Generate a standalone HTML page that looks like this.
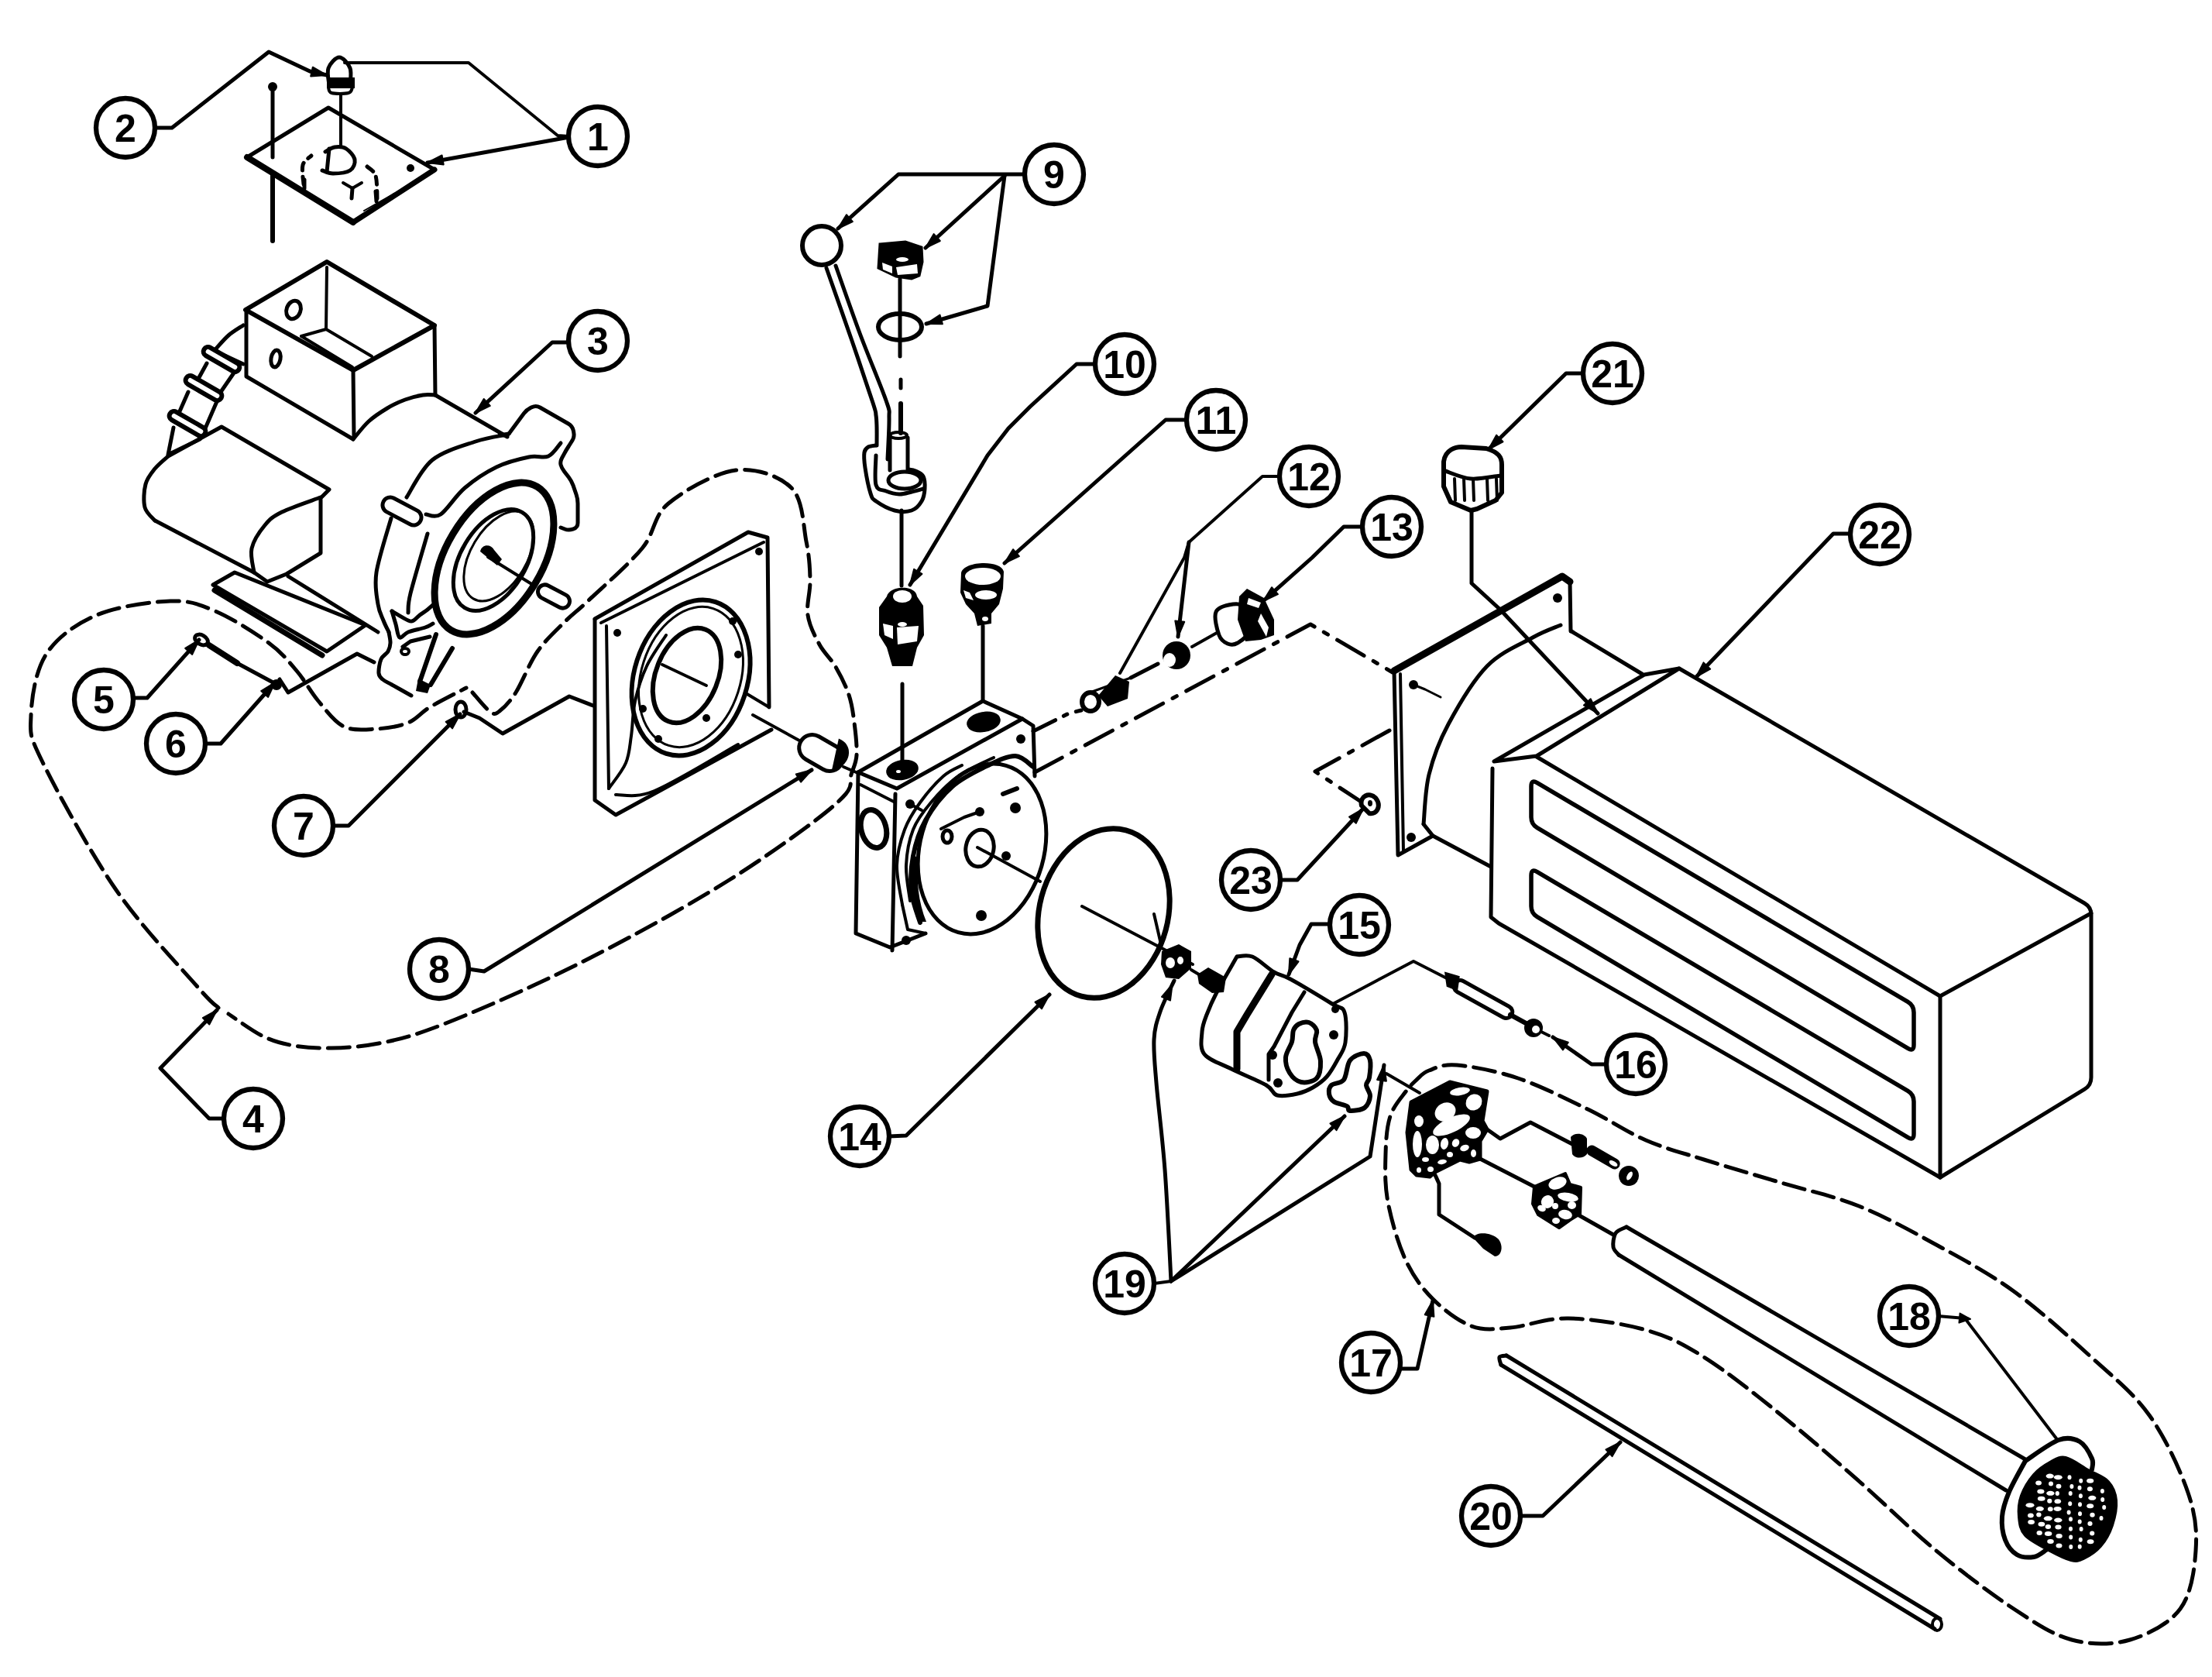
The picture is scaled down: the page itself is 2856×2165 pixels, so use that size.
<!DOCTYPE html>
<html><head><meta charset="utf-8"><style>
html,body{margin:0;padding:0;background:#fff;}
body{width:2856px;height:2165px;overflow:hidden;}
svg{display:block;}
</style></head><body>
<svg width="2856" height="2165" viewBox="0 0 2856 2165">
<rect width="2856" height="2165" fill="#fff"/>
<polyline points="200,165 222,165 347,67 400,92 422,97" fill="none" stroke="#000" stroke-width="5" stroke-linejoin="round" stroke-linecap="round" />
<polygon points="422,97 401.2,98.4 403.8,86.7" fill="#000" stroke="#000" stroke-width="2" stroke-linejoin="round"/>
<polyline points="445,81 605,81 720,175 735,176" fill="none" stroke="#000" stroke-width="4" stroke-linejoin="round" stroke-linecap="round" />
<polyline points="735,177 552,210" fill="none" stroke="#000" stroke-width="5" stroke-linejoin="round" stroke-linecap="round" />
<polygon points="552,210 570.6,200.5 572.7,212.4" fill="#000" stroke="#000" stroke-width="2" stroke-linejoin="round"/>
<polyline points="735,442 713,442 614,533" fill="none" stroke="#000" stroke-width="5" stroke-linejoin="round" stroke-linecap="round" />
<polygon points="614,533 624.7,515 632.8,523.9" fill="#000" stroke="#000" stroke-width="2" stroke-linejoin="round"/>
<polyline points="290,1444 270,1444 207,1379 280,1304" fill="none" stroke="#000" stroke-width="5" stroke-linejoin="round" stroke-linecap="round" />
<polygon points="280,1304 270.3,1322.5 261.8,1314.1" fill="#000" stroke="#000" stroke-width="2" stroke-linejoin="round"/>
<polyline points="172,901 190,901 257,826" fill="none" stroke="#000" stroke-width="5" stroke-linejoin="round" stroke-linecap="round" />
<polygon points="257,826 248.2,844.9 239.2,836.9" fill="#000" stroke="#000" stroke-width="2" stroke-linejoin="round"/>
<polyline points="265,960 285,960 355,881" fill="none" stroke="#000" stroke-width="5" stroke-linejoin="round" stroke-linecap="round" />
<polygon points="355,881 346.2,899.9 337.2,892" fill="#000" stroke="#000" stroke-width="2" stroke-linejoin="round"/>
<polyline points="430,1066 450,1066 594,922" fill="none" stroke="#000" stroke-width="5" stroke-linejoin="round" stroke-linecap="round" />
<polygon points="594,922 584.1,940.4 575.6,931.9" fill="#000" stroke="#000" stroke-width="2" stroke-linejoin="round"/>
<polyline points="605,1251 625,1254 1048,994" fill="none" stroke="#000" stroke-width="5" stroke-linejoin="round" stroke-linecap="round" />
<polygon points="1048,994 1034.1,1009.6 1027.8,999.4" fill="#000" stroke="#000" stroke-width="2" stroke-linejoin="round"/>
<polyline points="1323,225 1160,225 1082,295" fill="none" stroke="#000" stroke-width="5" stroke-linejoin="round" stroke-linecap="round" />
<polygon points="1082,295 1092.9,277.2 1100.9,286.1" fill="#000" stroke="#000" stroke-width="2" stroke-linejoin="round"/>
<polyline points="1297,227 1195,320" fill="none" stroke="#000" stroke-width="5" stroke-linejoin="round" stroke-linecap="round" />
<polygon points="1195,320 1205.7,302.1 1213.8,311" fill="#000" stroke="#000" stroke-width="2" stroke-linejoin="round"/>
<polyline points="1297,227 1275,395 1196,418" fill="none" stroke="#000" stroke-width="5" stroke-linejoin="round" stroke-linecap="round" />
<polygon points="1196,418 1213.5,406.6 1216.9,418.2" fill="#000" stroke="#000" stroke-width="2" stroke-linejoin="round"/>
<polyline points="1414,470 1390,470 1330,525 1302,553 1275,588 1175,755" fill="none" stroke="#000" stroke-width="5" stroke-linejoin="round" stroke-linecap="round" />
<polygon points="1175,755 1180.1,734.8 1190.4,740.9" fill="#000" stroke="#000" stroke-width="2" stroke-linejoin="round"/>
<polyline points="1532,542 1505,542 1297,727" fill="none" stroke="#000" stroke-width="5" stroke-linejoin="round" stroke-linecap="round" />
<polygon points="1297,727 1308,709.2 1315.9,718.2" fill="#000" stroke="#000" stroke-width="2" stroke-linejoin="round"/>
<polyline points="1652,615 1630,615 1535,700 1529,720 1446,869" fill="none" stroke="#000" stroke-width="4" stroke-linejoin="round" stroke-linecap="round" />
<polyline points="1535,700 1521,822" fill="none" stroke="#000" stroke-width="5" stroke-linejoin="round" stroke-linecap="round" />
<polygon points="1521,822 1517.3,801.4 1529.2,802.8" fill="#000" stroke="#000" stroke-width="2" stroke-linejoin="round"/>
<polyline points="1759,680 1735,680 1694,720 1631,776" fill="none" stroke="#000" stroke-width="5" stroke-linejoin="round" stroke-linecap="round" />
<polygon points="1631,776 1642,758.2 1649.9,767.2" fill="#000" stroke="#000" stroke-width="2" stroke-linejoin="round"/>
<polyline points="1148,1467 1170,1466 1355,1284" fill="none" stroke="#000" stroke-width="5" stroke-linejoin="round" stroke-linecap="round" />
<polygon points="1355,1284 1345,1302.3 1336.5,1293.7" fill="#000" stroke="#000" stroke-width="2" stroke-linejoin="round"/>
<polyline points="1717,1193 1693,1193 1678,1220 1664,1258" fill="none" stroke="#000" stroke-width="5" stroke-linejoin="round" stroke-linecap="round" />
<polygon points="1664,1258 1665.3,1237.2 1676.5,1241.3" fill="#000" stroke="#000" stroke-width="2" stroke-linejoin="round"/>
<polyline points="2074,1374 2055,1374 2005,1339" fill="none" stroke="#000" stroke-width="5" stroke-linejoin="round" stroke-linecap="round" />
<polygon points="2005,1339 2024.8,1345.6 2017.9,1355.4" fill="#000" stroke="#000" stroke-width="2" stroke-linejoin="round"/>
<polyline points="1807,1767 1830,1767 1850,1679" fill="none" stroke="#000" stroke-width="5" stroke-linejoin="round" stroke-linecap="round" />
<polygon points="1850,1679 1851.4,1699.8 1839.7,1697.2" fill="#000" stroke="#000" stroke-width="2" stroke-linejoin="round"/>
<polyline points="2502,1699 2537,1702 2655,1857" fill="none" stroke="#000" stroke-width="4" stroke-linejoin="round" stroke-linecap="round" />
<polygon points="2544,1702.9 2529.5,1707.6 2530.6,1695.6" fill="#000" stroke="#000" stroke-width="2" stroke-linejoin="round"/>
<polyline points="1490,1657 1512,1654" fill="none" stroke="#000" stroke-width="4" stroke-linejoin="round" stroke-linecap="round" />
<path d="M1512,1654 C1510.7,1630 1507.2,1552.7 1504,1510 C1500.8,1467.3 1495.3,1426 1493,1398 C1490.7,1370 1489.2,1357.3 1490,1342 C1490.8,1326.7 1493.7,1318.7 1498,1306 C1502.3,1293.3 1513,1272.7 1516,1266" fill="none" stroke="#000" stroke-width="5" stroke-linejoin="round" stroke-linecap="round" />
<polygon points="1513.6,1270.9 1511,1291.6 1500,1286.8" fill="#000" stroke="#000" stroke-width="2" stroke-linejoin="round"/>
<polyline points="1512,1654 1736,1441" fill="none" stroke="#000" stroke-width="5" stroke-linejoin="round" stroke-linecap="round" />
<polygon points="1736,1441 1725.6,1459.1 1717.4,1450.4" fill="#000" stroke="#000" stroke-width="2" stroke-linejoin="round"/>
<polyline points="1512,1654 1769,1493 1787,1375" fill="none" stroke="#000" stroke-width="5" stroke-linejoin="round" stroke-linecap="round" />
<polygon points="1787,1375 1789.9,1395.7 1778.1,1393.9" fill="#000" stroke="#000" stroke-width="2" stroke-linejoin="round"/>
<polyline points="1962,1957 1992,1957 2092,1862" fill="none" stroke="#000" stroke-width="5" stroke-linejoin="round" stroke-linecap="round" />
<polygon points="2092,1862 2081.6,1880.1 2073.4,1871.4" fill="#000" stroke="#000" stroke-width="2" stroke-linejoin="round"/>
<polyline points="2045,482 2022,482 1922,580" fill="none" stroke="#000" stroke-width="5" stroke-linejoin="round" stroke-linecap="round" />
<polygon points="1922,580 1932.1,561.7 1940.5,570.3" fill="#000" stroke="#000" stroke-width="2" stroke-linejoin="round"/>
<polyline points="2390,689 2367,689 2190,874" fill="none" stroke="#000" stroke-width="5" stroke-linejoin="round" stroke-linecap="round" />
<polygon points="2190,874 2199.5,855.4 2208.2,863.7" fill="#000" stroke="#000" stroke-width="2" stroke-linejoin="round"/>
<polyline points="1652,1136 1675,1136 1760,1044" fill="none" stroke="#000" stroke-width="5" stroke-linejoin="round" stroke-linecap="round" />
<polygon points="1760,1044 1750.8,1062.8 1742,1054.6" fill="#000" stroke="#000" stroke-width="2" stroke-linejoin="round"/>
<polyline points="319,203 424,139 561,219" fill="none" stroke="#000" stroke-width="5" stroke-linejoin="round" stroke-linecap="round" />
<polyline points="319,203 456,287" fill="none" stroke="#000" stroke-width="8" stroke-linejoin="round" stroke-linecap="round" />
<polyline points="456,287 561,219" fill="none" stroke="#000" stroke-width="7" stroke-linejoin="round" stroke-linecap="round" />
<polyline points="470,272 555,224" fill="none" stroke="#000" stroke-width="2" stroke-linejoin="round" stroke-linecap="round" stroke="#fff"/>
<polyline points="352,110 352,203" fill="none" stroke="#000" stroke-width="5" stroke-linejoin="round" stroke-linecap="round" />
<circle cx="352" cy="112" r="6" fill="#000"/>
<polyline points="352,225 352,311" fill="none" stroke="#000" stroke-width="6" stroke-linejoin="round" stroke-linecap="round" />
<path d="M425,110 C424.8,106.3 421.8,94 424,88 C426.2,82 433.3,74 438,74 C442.7,74 449.7,82 452,88 C454.3,94 452,106.3 452,110" fill="none" stroke="#000" stroke-width="5" stroke-linejoin="round" stroke-linecap="round" />
<path d="M422,100 L458,100 L458,114 L422,114 Z" fill="#000"/>
<path d="M424,113 C424.7,114.2 423.7,118.8 428,120 C432.3,121.2 445.5,121.2 450,120 C454.5,118.8 454.2,114.2 455,113" fill="none" stroke="#000" stroke-width="4" stroke-linejoin="round" stroke-linecap="round" />
<polyline points="440,122 440,188" fill="none" stroke="#000" stroke-width="4" stroke-linejoin="round" stroke-linecap="round" />
<circle cx="530" cy="217" r="5" fill="#000"/>
<path d="M420,196 C422,195 427.5,190.7 432,190 C436.5,189.3 442.7,189.3 447,192 C451.3,194.7 457.2,201.3 458,206 C458.8,210.7 456.7,217 452,220 C447.3,223 436,224 430,224 C424,224 418.3,220.7 416,220" fill="none" stroke="#000" stroke-width="5" stroke-linejoin="round" stroke-linecap="round" />
<polyline points="425,192 422,222" fill="none" stroke="#000" stroke-width="5" stroke-linejoin="round" stroke-linecap="round" />
<path d="M392,238 C391.8,233.8 389.3,219.2 391,213 C392.7,206.8 400.2,203 402,201" fill="none" stroke="#000" stroke-width="5" stroke-linejoin="round" stroke-linecap="round" stroke-dasharray="10 8" stroke-linecap="butt"/>
<path d="M474,215 C475.8,217 482.8,219.8 485,227 C487.2,234.2 486.7,252.8 487,258" fill="none" stroke="#000" stroke-width="5" stroke-linejoin="round" stroke-linecap="round" stroke-dasharray="10 8" stroke-linecap="butt"/>
<polyline points="393,232 393,243" fill="none" stroke="#000" stroke-width="5" stroke-linejoin="round" stroke-linecap="round" />
<polyline points="485,247 486,260" fill="none" stroke="#000" stroke-width="5" stroke-linejoin="round" stroke-linecap="round" />
<polyline points="443,236 455,243 467,236" fill="none" stroke="#000" stroke-width="4" stroke-linejoin="round" stroke-linecap="round" />
<polyline points="455,243 454,256" fill="none" stroke="#000" stroke-width="5" stroke-linejoin="round" stroke-linecap="round" />
<polygon points="317,400 422,338 561,420 456,478" fill="none" stroke="#000" stroke-width="6" stroke-linejoin="round" />
<polyline points="318,400 318,486 456,567" fill="none" stroke="#000" stroke-width="5" stroke-linejoin="round" stroke-linecap="round" />
<polyline points="562,510 561,420" fill="none" stroke="#000" stroke-width="5" stroke-linejoin="round" stroke-linecap="round" />
<polyline points="456,478 457,565" fill="none" stroke="#000" stroke-width="5" stroke-linejoin="round" stroke-linecap="round" />
<polyline points="422,345 421,425 389,434" fill="none" stroke="#000" stroke-width="4" stroke-linejoin="round" stroke-linecap="round" />
<polyline points="421,425 480,460" fill="none" stroke="#000" stroke-width="4" stroke-linejoin="round" stroke-linecap="round" />
<polyline points="389,434 455,474" fill="none" stroke="#000" stroke-width="4" stroke-linejoin="round" stroke-linecap="round" />
<ellipse cx="379" cy="400" rx="9" ry="12" transform="rotate(20 379 400)" fill="none" stroke="#000" stroke-width="5"/>
<ellipse cx="356" cy="463" rx="6" ry="11" transform="rotate(10 356 463)" fill="none" stroke="#000" stroke-width="5"/>
<path d="M456,567 C459.3,563.2 468.7,550.7 476,544 C483.3,537.3 492.2,531.7 500,527 C507.8,522.3 515.3,518.8 523,516 C530.7,513.2 539.5,511 546,510 C552.5,509 559.3,510 562,510" fill="none" stroke="#000" stroke-width="5" stroke-linejoin="round" stroke-linecap="round" />
<polyline points="562,510 655,564" fill="none" stroke="#000" stroke-width="5" stroke-linejoin="round" stroke-linecap="round" />
<path d="M279,450 C281.7,447.2 289.2,438 295,433 C300.8,428 310.8,422.2 314,420" fill="none" stroke="#000" stroke-width="5" stroke-linejoin="round" stroke-linecap="round" />
<polyline points="286,457 314,470" fill="none" stroke="#000" stroke-width="5" stroke-linejoin="round" stroke-linecap="round" />
<polyline points="267,469 255,491" fill="none" stroke="#000" stroke-width="5" stroke-linejoin="round" stroke-linecap="round" />
<polyline points="305,477 283,509" fill="none" stroke="#000" stroke-width="5" stroke-linejoin="round" stroke-linecap="round" />
<polyline points="243,506 232,531" fill="none" stroke="#000" stroke-width="5" stroke-linejoin="round" stroke-linecap="round" />
<polyline points="281,516 265,553" fill="none" stroke="#000" stroke-width="5" stroke-linejoin="round" stroke-linecap="round" />
<polyline points="224,552 217,587 258,567" fill="none" stroke="#000" stroke-width="5" stroke-linejoin="round" stroke-linecap="round" />
<rect x="-26" y="-6" width="52" height="12" rx="6" transform="translate(286,464) rotate(30)" fill="#fff" stroke="#000" stroke-width="6"/>
<rect x="-26" y="-6" width="52" height="12" rx="6" transform="translate(263,501) rotate(30)" fill="#fff" stroke="#000" stroke-width="6"/>
<rect x="-26" y="-6" width="52" height="12" rx="6" transform="translate(242,547) rotate(30)" fill="#fff" stroke="#000" stroke-width="6"/>
<path d="M217,589 C214.2,591.7 204.8,599 200,605 C195.2,611 190.2,616.7 188,625 C185.8,633.3 185,647.2 187,655 C189,662.8 197.8,669.2 200,672" fill="none" stroke="#000" stroke-width="5" stroke-linejoin="round" stroke-linecap="round" />
<polyline points="217,589 286,551 425,632 414,643 414,714 370,741 345,751 328,739" fill="none" stroke="#000" stroke-width="5" stroke-linejoin="round" stroke-linecap="round" />
<polyline points="200,672 328,739" fill="none" stroke="#000" stroke-width="5" stroke-linejoin="round" stroke-linecap="round" />
<path d="M328,739 C327.5,733.8 322.7,718.2 325,708 C327.3,697.8 335.5,685.8 342,678 C348.5,670.2 352,667 364,661 C376,655 405.7,645.2 414,642" fill="none" stroke="#000" stroke-width="5" stroke-linejoin="round" stroke-linecap="round" />
<polygon points="275,755 303,739 472,807 422,841" fill="none" stroke="#000" stroke-width="5" stroke-linejoin="round" />
<polyline points="277,762 416,846" fill="none" stroke="#000" stroke-width="7" stroke-linejoin="round" stroke-linecap="round" />
<polyline points="372,744 488,816" fill="none" stroke="#000" stroke-width="5" stroke-linejoin="round" stroke-linecap="round" />
<polyline points="361,877 372,894 461,844 483,855" fill="none" stroke="#000" stroke-width="5" stroke-linejoin="round" stroke-linecap="round" />
<path d="M525,642 C530.5,634 543.2,606 558,594 C572.8,582 597.8,575.5 614,570 C630.2,564.5 648.2,562.5 655,561" fill="none" stroke="#000" stroke-width="5" stroke-linejoin="round" stroke-linecap="round" />
<polyline points="645,562 657,560" fill="none" stroke="#000" stroke-width="5" stroke-linejoin="round" stroke-linecap="round" />
<path d="M657,560 L676.4,533.8 Q680,529 685.4,526.3 L686.6,525.7 Q692,523 697.2,526 L733.8,547 Q739,550 740.3,555.9 L740.7,558.1 Q742,564 738.7,569 L734.3,576 Q731,581 728.2,586.3 L725.8,590.7 Q723,596 724,600 L724,600 Q725,604 728.6,608.8 L734.4,616.2 Q738,621 740,626.7 L744,638.3 Q746,644 746,650 L746,675 Q746,681 740.3,682.9 L739.7,683.1 Q734,685 729,683 L724,681" fill="none" stroke="#000" stroke-width="5" stroke-linejoin="round" stroke-linecap="round" />
<path d="M550,664 C553.2,664 560.7,669.7 569,664 C577.3,658.3 588,640.2 600,630 C612,619.8 627.2,609.7 641,603 C654.8,596.3 671.8,592.3 683,590 C694.2,587.7 701.2,592 708,589 C714.8,586 721.3,574.8 724,572" fill="none" stroke="#000" stroke-width="5" stroke-linejoin="round" stroke-linecap="round" />
<rect x="-27" y="-10" width="54" height="20" rx="10" transform="translate(519,660) rotate(28)" fill="#fff" stroke="#000" stroke-width="5"/>
<path d="M505,669 C501.8,680.7 488.8,720.5 486,739 C483.2,757.5 486.5,769.7 488,780 C489.5,790.3 492.7,795 495,801 C497.3,807 500.8,813.5 502,816" fill="none" stroke="#000" stroke-width="5" stroke-linejoin="round" stroke-linecap="round" />
<path d="M552,689 C548.3,701.8 534.2,749 530,766 C525.8,783 527.5,786.8 527,791" fill="none" stroke="#000" stroke-width="5" stroke-linejoin="round" stroke-linecap="round" />
<ellipse cx="638" cy="721" rx="108" ry="62" transform="rotate(-59 638 721)" fill="none" stroke="#000" stroke-width="9"/>
<ellipse cx="637" cy="723" rx="72" ry="42" transform="rotate(-59 637 723)" fill="none" stroke="#000" stroke-width="5"/>
<ellipse cx="644" cy="718" rx="64" ry="36" transform="rotate(-59 644 718)" fill="none" stroke="#000" stroke-width="3"/>
<path d="M620,712 C622,702 634,702 638,710 L648,722 L642,730 Z" fill="#000"/>
<polyline points="630,719 688,755" fill="none" stroke="#000" stroke-width="4" stroke-linejoin="round" stroke-linecap="round" />
<path d="M502,816 C502.3,818.3 504.2,825.8 504,830 C503.8,834.2 503,837.5 501,841 C499,844.5 494,846.3 492,851 C490,855.7 488.7,864.7 489,869 C489.3,873.3 491.2,874.5 494,877 C496.8,879.5 499.8,880.5 506,884 C512.2,887.5 526.8,895.7 531,898" fill="none" stroke="#000" stroke-width="5" stroke-linejoin="round" stroke-linecap="round" />
<path d="M506,789 C506.8,791.8 509.3,800.3 511,806 C512.7,811.7 513.3,821.3 516,823 C518.7,824.7 521.5,818.2 527,816 C532.5,813.8 543.7,811.8 549,810 C554.3,808.2 557.3,805.8 559,805" fill="none" stroke="#000" stroke-width="5" stroke-linejoin="round" stroke-linecap="round" />
<path d="M506,789 C509.5,791 522.3,799 527,801 C531.7,803 531.5,802.2 534,801 C536.5,799.8 539,796.3 542,794 C545,791.7 549.2,789.2 552,787 C554.8,784.8 557.8,782 559,781" fill="none" stroke="#000" stroke-width="5" stroke-linejoin="round" stroke-linecap="round" />
<polyline points="520,835 530,828 555,822" fill="none" stroke="#000" stroke-width="5" stroke-linejoin="round" stroke-linecap="round" />
<ellipse cx="523" cy="841" rx="5" ry="4" transform="rotate(0 523 841)" fill="none" stroke="#000" stroke-width="4"/>
<polyline points="563,819 542,880" fill="none" stroke="#000" stroke-width="6" stroke-linejoin="round" stroke-linecap="round" />
<polyline points="584,837 556,884" fill="none" stroke="#000" stroke-width="6" stroke-linejoin="round" stroke-linecap="round" />
<path d="M540,876 L556,884 L552,895 L537,892 Z" fill="#000"/>
<rect x="-22" y="-9" width="44" height="18" rx="9" transform="translate(715,770) rotate(28)" fill="#fff" stroke="#000" stroke-width="5"/>
<path d="M282,1301 C277.5,1296.5 277,1299.3 255,1274 C233,1248.7 183.3,1197.3 150,1149 C116.7,1100.7 73.3,1021.5 55,984 C36.7,946.5 39.2,947.3 40,924 C40.8,900.7 45.8,865.7 60,844 C74.2,822.3 98.3,805.3 125,794 C151.7,782.7 194.5,776.8 220,776 C245.5,775.2 256.8,780 278,789 C299.2,798 329.5,817.2 347,830 C364.5,842.8 372.3,853.5 383,866 C393.7,878.5 400.8,893 411,905 C421.2,917 431.5,932 444,938 C456.5,944 472.2,941.8 486,941 C499.8,940.2 515.5,937.7 527,933 C538.5,928.3 542.5,920.5 555,913 C567.5,905.5 594.2,892.2 602,888" fill="none" stroke="#000" stroke-width="5" stroke-linejoin="round" stroke-linecap="round" stroke-dasharray="28 11" stroke-linecap="butt"/>
<path d="M610,894 C613.8,898.2 627.2,915 633,919 C638.8,923 639.5,922.2 645,918 C650.5,913.8 657.8,906.8 666,894 C674.2,881.2 683.3,856.3 694,841 C704.7,825.7 719,813 730,802 C741,791 743.5,790.7 760,775 C776.5,759.3 811.8,728.8 829,708 C846.2,687.2 842.8,666.8 863,650 C883.2,633.2 923.5,610.3 950,607 C976.5,603.7 1006.8,614.7 1022,630 C1037.2,645.3 1037,679.2 1041,699 C1045,718.8 1045.7,733.2 1046,749 C1046.3,764.8 1041,780.2 1043,794 C1045,807.8 1052,820.8 1058,832 C1064,843.2 1072.7,850.2 1079,861 C1085.3,871.8 1092,885 1096,897 C1100,909 1101.3,920 1103,933 C1104.7,946 1106.7,963.8 1106,975 C1105.3,986.2 1101.3,991.7 1099,1000 C1096.7,1008.3 1101.7,1013.7 1092,1025 C1082.3,1036.3 1066.3,1049.3 1041,1068 C1015.7,1086.7 978,1113.3 940,1137 C902,1160.7 855.2,1187.3 813,1210 C770.8,1232.7 729.2,1253.5 687,1273 C644.8,1292.5 593,1314.7 560,1327 C527,1339.3 511,1342.7 489,1347 C467,1351.3 446.2,1352.5 428,1353 C409.8,1353.5 394.7,1352.5 380,1350 C365.3,1347.5 354.2,1344.8 340,1338 C325.8,1331.2 302.5,1313.8 295,1309" fill="none" stroke="#000" stroke-width="5" stroke-linejoin="round" stroke-linecap="round" stroke-dasharray="28 11" stroke-linecap="butt"/>
<polyline points="270,833 306,856" fill="none" stroke="#000" stroke-width="8" stroke-linejoin="round" stroke-linecap="round" />
<polyline points="306,856 358,884" fill="none" stroke="#000" stroke-width="5" stroke-linejoin="round" stroke-linecap="round" />
<ellipse cx="260" cy="826" rx="9" ry="6" transform="rotate(30 260 826)" fill="none" stroke="#000" stroke-width="5"/>
<circle cx="357" cy="884" r="7" fill="#000"/>
<ellipse cx="595" cy="916" rx="7" ry="10" transform="rotate(0 595 916)" fill="none" stroke="#000" stroke-width="5"/>
<polyline points="599,919 619,927 649,947 735,899 766,911" fill="none" stroke="#000" stroke-width="5" stroke-linejoin="round" stroke-linecap="round" />
<polyline points="768,799 966,687 991,694 993,913" fill="none" stroke="#000" stroke-width="5" stroke-linejoin="round" stroke-linecap="round" />
<polyline points="776,804 986,700" fill="none" stroke="#000" stroke-width="4" stroke-linejoin="round" stroke-linecap="round" />
<polyline points="768,800 768,1033 795,1052 996,942" fill="none" stroke="#000" stroke-width="5" stroke-linejoin="round" stroke-linecap="round" />
<polyline points="783,808 786,1018" fill="none" stroke="#000" stroke-width="4" stroke-linejoin="round" stroke-linecap="round" />
<path d="M786,1018 C789.7,1012.5 803.2,996.3 808,985 C812.8,973.7 813,963.3 815,950 C817,936.7 816.7,920 820,905 C823.3,890 828.3,874.2 835,860 C841.7,845.8 855.8,826.7 860,820" fill="none" stroke="#000" stroke-width="4" stroke-linejoin="round" stroke-linecap="round" />
<path d="M795,1026 C803.3,1025.2 818.7,1031.8 845,1021 C871.3,1010.2 935,971 953,961" fill="none" stroke="#000" stroke-width="4" stroke-linejoin="round" stroke-linecap="round" />
<polyline points="963,895 993,913" fill="none" stroke="#000" stroke-width="4" stroke-linejoin="round" stroke-linecap="round" />
<ellipse cx="892" cy="875" rx="73" ry="103" transform="rotate(18 892 875)" fill="none" stroke="#000" stroke-width="6"/>
<ellipse cx="892" cy="874" rx="64" ry="93" transform="rotate(18 892 874)" fill="none" stroke="#000" stroke-width="3"/>
<ellipse cx="887" cy="872" rx="40" ry="64" transform="rotate(22 887 872)" fill="none" stroke="#000" stroke-width="6"/>
<polyline points="855,858 912,885" fill="none" stroke="#000" stroke-width="4" stroke-linejoin="round" stroke-linecap="round" />
<circle cx="797" cy="817" r="5" fill="#000"/>
<circle cx="980" cy="712" r="5" fill="#000"/>
<circle cx="850" cy="954" r="5" fill="#000"/>
<circle cx="912" cy="927" r="5" fill="#000"/>
<circle cx="953" cy="845" r="5" fill="#000"/>
<circle cx="946" cy="802" r="5" fill="#000"/>
<circle cx="830" cy="915" r="5" fill="#000"/>
<rect x="-30" y="-17" width="60" height="34" rx="17" transform="translate(1060,972) rotate(30)" fill="#fff" stroke="#000" stroke-width="5"/>
<path d="M1078,990 C1095,985 1098,965 1085,958 Z" fill="#000" stroke="#000" stroke-width="6"/>
<polyline points="972,923 1032,956" fill="none" stroke="#000" stroke-width="4" stroke-linejoin="round" stroke-linecap="round" />
<polyline points="1089,990 1110,999" fill="none" stroke="#000" stroke-width="4" stroke-linejoin="round" stroke-linecap="round" />
<ellipse cx="1061" cy="317" rx="25" ry="25" transform="rotate(0 1061 317)" fill="none" stroke="#000" stroke-width="6"/>
<path d="M1067,346 C1072.5,361.7 1090,411 1100,440 C1110,469 1121.8,504 1127,520 C1132.2,536 1130.2,530.8 1131,536 C1131.8,541.2 1131.8,544.5 1132,551 C1132.2,557.5 1132,571 1132,575" fill="none" stroke="#000" stroke-width="5" stroke-linejoin="round" stroke-linecap="round" />
<path d="M1079,343 C1084.2,357.5 1099.2,401 1110,430 C1120.8,459 1137.7,498.8 1144,517 C1150.3,535.2 1147.7,526.3 1148,539 C1148.3,551.7 1146.3,584 1146,593" fill="none" stroke="#000" stroke-width="5" stroke-linejoin="round" stroke-linecap="round" />
<polyline points="1149,561 1149,607" fill="none" stroke="#000" stroke-width="5" stroke-linejoin="round" stroke-linecap="round" />
<polyline points="1172,565 1172,607" fill="none" stroke="#000" stroke-width="5" stroke-linejoin="round" stroke-linecap="round" />
<ellipse cx="1160" cy="562" rx="11" ry="4" transform="rotate(0 1160 562)" fill="none" stroke="#000" stroke-width="4"/>
<path d="M1131,575 C1129.3,575.3 1123.5,575.5 1121,577 C1118.5,578.5 1116.7,579.5 1116,584 C1115.3,588.5 1115.7,595.2 1117,604 C1118.3,612.8 1121.7,629.8 1124,637 C1126.3,644.2 1125.8,643.3 1131,647 C1136.2,650.7 1147.3,657 1155,659 C1162.7,661 1171.2,661 1177,659 C1182.8,657 1187.2,651.7 1190,647 C1192.8,642.3 1193.7,636.3 1194,631 C1194.3,625.7 1194,618.8 1192,615 C1190,611.2 1185.2,609.5 1182,608 C1178.8,606.5 1174.5,606.3 1173,606" fill="none" stroke="#000" stroke-width="5" stroke-linejoin="round" stroke-linecap="round" />
<path d="M1131,588 C1131,594.3 1128.8,618.3 1131,626 C1133.2,633.7 1139,632 1144,634 C1149,636 1155.5,637.8 1161,638 C1166.5,638.2 1171.8,636.2 1177,635 C1182.2,633.8 1189.5,631.7 1192,631" fill="none" stroke="#000" stroke-width="5" stroke-linejoin="round" stroke-linecap="round" />
<ellipse cx="1168" cy="620" rx="21" ry="11" transform="rotate(0 1168 620)" fill="none" stroke="#000" stroke-width="5"/>
<polygon points="1136,315 1169,312 1190,319 1191,338 1187,356 1177,360 1157,357 1134,346 1135,331" fill="#000" stroke="#000" stroke-width="3"/>
<polygon points="1139,339 1152,344 1152,353 1140,348" fill="#fff"/>
<polygon points="1157,345 1184,341 1185,353 1159,355" fill="#fff"/>
<ellipse cx="1165" cy="335" rx="8" ry="3" transform="rotate(0 1165 335)" fill="#fff" stroke="#000" stroke-width="0"/>
<ellipse cx="1162" cy="422" rx="28" ry="17" transform="rotate(0 1162 422)" fill="none" stroke="#000" stroke-width="6"/>
<polyline points="1162,360 1162,460" fill="none" stroke="#000" stroke-width="5" stroke-linejoin="round" stroke-linecap="round" />
<path d="M1163,501 C1163,499.2 1163,491.8 1163,490" fill="none" stroke="#000" stroke-width="5" stroke-linejoin="round" stroke-linecap="round" stroke-dasharray="40 0" stroke-linecap="butt"/>
<polyline points="1163,521 1163,559" fill="none" stroke="#000" stroke-width="6" stroke-linejoin="round" stroke-linecap="round" />
<polyline points="1164,659 1164,756" fill="none" stroke="#000" stroke-width="5" stroke-linejoin="round" stroke-linecap="round" />
<path d="M1145,770 C1148,756 1182,754 1184,770 L1192,782 L1193,820 L1184,836 L1178,860 L1152,860 L1145,836 L1135,820 L1135,784 Z" fill="#000"/>
<ellipse cx="1165" cy="770" rx="12" ry="8" transform="rotate(0 1165 770)" fill="#fff" stroke="#000" stroke-width="0"/>
<polygon points="1140,805 1153,808 1153,825 1142,820" fill="#fff"/>
<polygon points="1158,810 1186,808 1184,828 1159,832" fill="#fff"/>
<ellipse cx="1165" cy="806" rx="6" ry="3" transform="rotate(0 1165 806)" fill="#fff" stroke="#000" stroke-width="0"/>
<ellipse cx="1164" cy="866" rx="10" ry="6" transform="rotate(0 1164 866)" fill="#fff" stroke="#000" stroke-width="0"/>
<polyline points="1165,883 1165,985" fill="none" stroke="#000" stroke-width="5" stroke-linejoin="round" stroke-linecap="round" />
<path d="M1241,740 C1243,724 1293,722 1296,738 L1295,760 L1290,780 L1280,792 L1280,805 L1262,808 L1258,792 L1247,780 L1240,765 Z" fill="#000"/>
<ellipse cx="1269" cy="744" rx="23" ry="11" transform="rotate(0 1269 744)" fill="#fff" stroke="#000" stroke-width="0"/>
<ellipse cx="1273" cy="768" rx="14" ry="6" transform="rotate(0 1273 768)" fill="#fff" stroke="#000" stroke-width="0"/>
<polygon points="1244,762 1252,765 1257,775 1247,772" fill="#fff"/>
<ellipse cx="1272" cy="799" rx="4" ry="3" transform="rotate(0 1272 799)" fill="#fff" stroke="#000" stroke-width="0"/>
<polyline points="1269,808 1269,905" fill="none" stroke="#000" stroke-width="5" stroke-linejoin="round" stroke-linecap="round" />
<ellipse cx="1408" cy="906" rx="11" ry="12" transform="rotate(0 1408 906)" fill="none" stroke="#000" stroke-width="6"/>
<polygon points="1418,898 1440,872 1458,880 1456,902 1430,912" fill="#000"/>
<polyline points="1460,875 1495,857" fill="none" stroke="#000" stroke-width="5" stroke-linejoin="round" stroke-linecap="round" />
<circle cx="1519" cy="846" r="18" fill="#000"/>
<ellipse cx="1510" cy="852" rx="8" ry="9" transform="rotate(0 1510 852)" fill="#fff" stroke="#000" stroke-width="0"/>
<polyline points="1539,835 1571,817" fill="none" stroke="#000" stroke-width="4" stroke-linejoin="round" stroke-linecap="round" />
<path d="M1570,790 C1573,783.3 1586.2,780.8 1592,780 C1597.8,779.2 1601.7,779.2 1605,785 C1608.3,790.8 1613.2,807.5 1612,815 C1610.8,822.5 1602.5,827.3 1598,830 C1593.5,832.7 1589,832.7 1585,831 C1581,829.3 1576.5,826.8 1574,820 C1571.5,813.2 1567,796.7 1570,790Z" fill="#fff" stroke="#000" stroke-width="5" stroke-linejoin="round" stroke-linecap="round" />
<polygon points="1600,770 1610,760 1632,772 1645,800 1645,820 1628,826 1608,828 1598,800" fill="#000"/>
<polygon points="1612,772 1628,778 1625,785 1610,780" fill="#fff"/>
<polygon points="1628,792 1638,810 1635,822 1624,802" fill="#fff"/>
<polyline points="1108,997 1269,905 1320,928 1334,937 1336,1002" fill="none" stroke="#000" stroke-width="5" stroke-linejoin="round" stroke-linecap="round" />
<polyline points="1108,997 1158,1018 1320,928" fill="none" stroke="#000" stroke-width="5" stroke-linejoin="round" stroke-linecap="round" />
<polyline points="1108,997 1105,1205 1149,1223 1195,1205" fill="none" stroke="#000" stroke-width="5" stroke-linejoin="round" stroke-linecap="round" />
<polyline points="1156,1025 1152,1227" fill="none" stroke="#000" stroke-width="5" stroke-linejoin="round" stroke-linecap="round" />
<polyline points="1111,1013 1156,1036" fill="none" stroke="#000" stroke-width="4" stroke-linejoin="round" stroke-linecap="round" />
<ellipse cx="1165" cy="994" rx="18" ry="10" transform="rotate(-10 1165 994)" fill="#000" stroke="#000" stroke-width="6"/>
<ellipse cx="1270" cy="932" rx="19" ry="10" transform="rotate(-10 1270 932)" fill="#000" stroke="#000" stroke-width="6"/>
<ellipse cx="1160" cy="996" rx="3" ry="2" transform="rotate(0 1160 996)" fill="#fff" stroke="#000" stroke-width="0"/>
<circle cx="1318" cy="954" r="6" fill="#000"/>
<ellipse cx="1128" cy="1070" rx="16" ry="25" transform="rotate(-15 1128 1070)" fill="none" stroke="#000" stroke-width="7"/>
<ellipse cx="1268" cy="1096" rx="80" ry="112" transform="rotate(16 1268 1096)" fill="none" stroke="#000" stroke-width="5"/>
<path d="M1165,1168 C1163.8,1159.5 1157.5,1133.2 1158,1117 C1158.5,1100.8 1163,1084.5 1168,1071 C1173,1057.5 1179.7,1047.5 1188,1036 C1196.3,1024.5 1209,1010 1218,1002 C1227,994 1238,990.3 1242,988" fill="none" stroke="#000" stroke-width="4" stroke-linejoin="round" stroke-linecap="round" />
<path d="M1175,1163 C1174.2,1155.3 1169.3,1132.3 1170,1117 C1170.7,1101.7 1173.7,1084.5 1179,1071 C1184.3,1057.5 1192.3,1047.5 1202,1036 C1211.7,1024.5 1223.5,1011.7 1237,1002 C1250.5,992.3 1275.3,982 1283,978" fill="none" stroke="#000" stroke-width="4" stroke-linejoin="round" stroke-linecap="round" />
<path d="M1188,1191 C1186.2,1184.5 1178.5,1166.3 1177,1152 C1175.5,1137.7 1176,1120.5 1179,1105 C1182,1089.5 1186.5,1074 1195,1059 C1203.5,1044 1216.5,1026.8 1230,1015 C1243.5,1003.2 1262.5,994.5 1276,988 C1289.5,981.5 1301.3,975.7 1311,976 C1320.7,976.3 1330.2,987.7 1334,990" fill="none" stroke="#000" stroke-width="6" stroke-linejoin="round" stroke-linecap="round" />
<path d="M1190,1190 C1176,1160 1174,1130 1180,1105 L1187,1107 C1182,1135 1186,1165 1196,1190 Z" fill="#000"/>
<polyline points="1165,1168 1172,1200 1195,1205" fill="none" stroke="#000" stroke-width="4" stroke-linejoin="round" stroke-linecap="round" />
<ellipse cx="1265" cy="1095" rx="18" ry="24" transform="rotate(10 1265 1095)" fill="none" stroke="#000" stroke-width="5"/>
<polyline points="1262,1094 1343,1138" fill="none" stroke="#000" stroke-width="4" stroke-linejoin="round" stroke-linecap="round" />
<circle cx="1175" cy="1038" r="6" fill="#000"/>
<circle cx="1265" cy="1048" r="6" fill="#000"/>
<circle cx="1311" cy="1043" r="7" fill="#000"/>
<circle cx="1299" cy="1105" r="6" fill="#000"/>
<circle cx="1267" cy="1182" r="7" fill="#000"/>
<circle cx="1170" cy="1214" r="6" fill="#000"/>
<ellipse cx="1223" cy="1080" rx="6" ry="8" transform="rotate(0 1223 1080)" fill="none" stroke="#000" stroke-width="5"/>
<polyline points="1175,1038 1190,1046" fill="none" stroke="#000" stroke-width="4" stroke-linejoin="round" stroke-linecap="round" />
<polyline points="1265,1048 1245,1055 1215,1070" fill="none" stroke="#000" stroke-width="4" stroke-linejoin="round" stroke-linecap="round" />
<polyline points="1295,1025 1313,1018" fill="none" stroke="#000" stroke-width="6" stroke-linejoin="round" stroke-linecap="round" />
<ellipse cx="1425" cy="1179" rx="83" ry="111" transform="rotate(15 1425 1179)" fill="none" stroke="#000" stroke-width="7"/>
<polyline points="1397,1170 1540,1245" fill="none" stroke="#000" stroke-width="4" stroke-linejoin="round" stroke-linecap="round" />
<polyline points="1334,944 1380,921 1396,917" fill="none" stroke="#000" stroke-width="5" stroke-linejoin="round" stroke-linecap="round" stroke-dasharray="32 12 5 12" stroke-linecap="butt"/>
<polyline points="1336,997 1692,806 1798,868" fill="none" stroke="#000" stroke-width="5" stroke-linejoin="round" stroke-linecap="round" stroke-dasharray="40 14 6 14" stroke-linecap="butt"/>
<polyline points="1794,943 1698,996 1768,1042" fill="none" stroke="#000" stroke-width="5" stroke-linejoin="round" stroke-linecap="round" stroke-dasharray="40 14 6 14" stroke-linecap="butt"/>
<polyline points="1410,893 1460,875" fill="none" stroke="#000" stroke-width="3" stroke-linejoin="round" stroke-linecap="round" />
<path d="M1758,1040 C1755,1028 1768,1022 1776,1030 C1784,1040 1778,1052 1768,1050 Z" fill="#fff" stroke="#000" stroke-width="6"/>
<ellipse cx="1769" cy="1037" rx="3" ry="4" transform="rotate(0 1769 1037)" fill="#000" stroke="#000" stroke-width="0"/>
<polyline points="1800,866 2017,744 2027,751" fill="none" stroke="#000" stroke-width="9" stroke-linejoin="round" stroke-linecap="round" />
<polyline points="2027,751 2028,815" fill="none" stroke="#000" stroke-width="5" stroke-linejoin="round" stroke-linecap="round" />
<polyline points="1800,866 1805,1104 1850,1079" fill="none" stroke="#000" stroke-width="5" stroke-linejoin="round" stroke-linecap="round" />
<polyline points="1808,870 1812,1100" fill="none" stroke="#000" stroke-width="4" stroke-linejoin="round" stroke-linecap="round" />
<circle cx="2011" cy="772" r="6" fill="#000"/>
<circle cx="1825" cy="884" r="6" fill="#000"/>
<circle cx="1822" cy="1081" r="6" fill="#000"/>
<path d="M2015,807 C2009,809.7 1994.8,814.2 1979,823 C1963.2,831.8 1938.2,841.3 1920,860 C1901.8,878.7 1882.5,911.7 1870,935 C1857.5,958.3 1850.3,978.5 1845,1000 C1839.7,1021.5 1839.2,1053.3 1838,1064" fill="none" stroke="#000" stroke-width="5" stroke-linejoin="round" stroke-linecap="round" />
<polyline points="2029,815 2120,870" fill="none" stroke="#000" stroke-width="5" stroke-linejoin="round" stroke-linecap="round" />
<polyline points="1838,1064 1850,1079 1925,1119" fill="none" stroke="#000" stroke-width="5" stroke-linejoin="round" stroke-linecap="round" />
<polyline points="1825,884 1840,890 1860,900" fill="none" stroke="#000" stroke-width="3" stroke-linejoin="round" stroke-linecap="round" />
<path d="M1864,596 C1866,580 1880,577 1887,577 L1919,579 C1935,584 1939,590 1939,600 L1939,636 L1931,646 L1907,657 L1899,659 L1873,648 L1864,628 Z" fill="#fff" stroke="#000" stroke-width="6" stroke-linejoin="round"/>
<path d="M1866,608 C1871.5,609.7 1887.2,617 1899,618 C1910.8,619 1930.7,614.7 1937,614" fill="none" stroke="#000" stroke-width="5" stroke-linejoin="round" stroke-linecap="round" />
<polyline points="1878,618 1879,646" fill="none" stroke="#000" stroke-width="4" stroke-linejoin="round" stroke-linecap="round" />
<polyline points="1890,618 1891,646" fill="none" stroke="#000" stroke-width="4" stroke-linejoin="round" stroke-linecap="round" />
<polyline points="1902,618 1903,646" fill="none" stroke="#000" stroke-width="4" stroke-linejoin="round" stroke-linecap="round" />
<polyline points="1920,618 1921,646" fill="none" stroke="#000" stroke-width="4" stroke-linejoin="round" stroke-linecap="round" />
<polyline points="1932,618 1933,646" fill="none" stroke="#000" stroke-width="4" stroke-linejoin="round" stroke-linecap="round" />
<polyline points="1900,659 1900,753 1937,787 2063,921" fill="none" stroke="#000" stroke-width="5" stroke-linejoin="round" stroke-linecap="round" />
<polygon points="2063,921 2044.9,910.5 2053.7,902.3" fill="#000" stroke="#000" stroke-width="2" stroke-linejoin="round"/>
<path d="M2168,863 L2691.3,1166 Q2700,1171 2700,1181 L2700,1391 Q2700,1401 2691.5,1406.2 L2505,1520" fill="none" stroke="#000" stroke-width="5" stroke-linejoin="round" stroke-linecap="round" />
<polyline points="1927,992 1925,1184 1935,1192 2505,1520" fill="none" stroke="#000" stroke-width="5" stroke-linejoin="round" stroke-linecap="round" />
<polyline points="1984,977 2505,1286 2700,1179" fill="none" stroke="#000" stroke-width="5" stroke-linejoin="round" stroke-linecap="round" />
<polyline points="2505,1286 2505,1520" fill="none" stroke="#000" stroke-width="5" stroke-linejoin="round" stroke-linecap="round" />
<polyline points="1929,983 2123,871 2168,863 1984,976 1929,983" fill="none" stroke="#000" stroke-width="5" stroke-linejoin="round" stroke-linecap="round" />
<path d="M1977,1015 Q1977,1006 1984.7,1010.6 L2463.3,1293.4 Q2471,1298 2471,1307 L2471,1349 Q2471,1358 2463.3,1353.4 L1984.7,1068.6 Q1977,1064 1977,1055 Z" fill="none" stroke="#000" stroke-width="5.5" stroke-linejoin="round" stroke-linecap="round" />
<path d="M1977,1130 Q1977,1121 1984.7,1125.6 L2463.3,1408.4 Q2471,1413 2471,1422 L2471,1464 Q2471,1473 2463.3,1468.4 L1984.7,1183.6 Q1977,1179 1977,1170 Z" fill="none" stroke="#000" stroke-width="5.5" stroke-linejoin="round" stroke-linecap="round" />
<polyline points="1490,1180 1499,1219" fill="none" stroke="#000" stroke-width="4" stroke-linejoin="round" stroke-linecap="round" />
<path d="M1500,1228 L1522,1219 L1538,1228 L1538,1250 L1522,1264 L1505,1262 L1499,1245 Z" fill="#000"/>
<ellipse cx="1511" cy="1243" rx="6" ry="7" transform="rotate(0 1511 1243)" fill="#fff" stroke="#000" stroke-width="0"/>
<ellipse cx="1524" cy="1240" rx="4" ry="5" transform="rotate(0 1524 1240)" fill="#fff" stroke="#000" stroke-width="0"/>
<path d="M1546,1258 L1560,1249 L1583,1262 L1580,1281 L1565,1282 L1548,1270 Z" fill="#000"/>
<polyline points="1538,1252 1548,1258" fill="none" stroke="#000" stroke-width="4" stroke-linejoin="round" stroke-linecap="round" />
<path d="M1597,1235 C1600.3,1235 1609,1231.7 1617,1235 C1625,1238.3 1636.8,1250.2 1645,1255 C1653.2,1259.8 1653.5,1257.2 1666,1264 C1678.5,1270.8 1708.3,1288.8 1720,1296 C1731.7,1303.2 1733.2,1298.7 1736,1307 C1738.8,1315.3 1738.5,1335.8 1737,1346 C1735.5,1356.2 1731,1360.7 1727,1368 C1723,1375.3 1718.3,1384 1713,1390 C1707.7,1396 1701.3,1400.3 1695,1404 C1688.7,1407.7 1682.7,1410.3 1675,1412 C1667.3,1413.7 1655.7,1415.8 1649,1414 C1642.3,1412.2 1644.8,1406.7 1635,1401 C1625.2,1395.3 1603.3,1386.7 1590,1380 C1576.7,1373.3 1561.3,1369 1555,1361 C1548.7,1353 1551.5,1340.5 1552,1332 C1552.5,1323.5 1554.8,1318.5 1558,1310 C1561.2,1301.5 1564.5,1293.5 1571,1281 C1577.5,1268.5 1592.7,1242.7 1597,1235" fill="none" stroke="#000" stroke-width="5" stroke-linejoin="round" stroke-linecap="round" />
<polyline points="1642,1258 1610,1310 1597,1332 1597,1380" fill="none" stroke="#000" stroke-width="9" stroke-linejoin="round" stroke-linecap="round" />
<polyline points="1684,1281 1668,1307 1645,1351 1638,1361 1638,1394" fill="none" stroke="#000" stroke-width="5" stroke-linejoin="round" stroke-linecap="round" />
<path d="M1677,1322 C1680.3,1320.3 1686.2,1318.7 1690,1320 C1693.8,1321.3 1698.7,1325.8 1700,1330 C1701.3,1334.2 1697.2,1338.3 1698,1345 C1698.8,1351.7 1704.7,1362.2 1705,1370 C1705.3,1377.8 1704.2,1387.5 1700,1392 C1695.8,1396.5 1685.8,1398.2 1680,1397 C1674.2,1395.8 1668.3,1390.3 1665,1385 C1661.7,1379.7 1659.5,1371.7 1660,1365 C1660.5,1358.3 1666.3,1350.8 1668,1345 C1669.7,1339.2 1668.5,1333.8 1670,1330 C1671.5,1326.2 1673.7,1323.7 1677,1322Z" fill="none" stroke="#000" stroke-width="6" stroke-linejoin="round" stroke-linecap="round" />
<ellipse cx="1689" cy="1336" rx="5" ry="7" transform="rotate(0 1689 1336)" fill="#fff" stroke="#000" stroke-width="0"/>
<circle cx="1722" cy="1336" r="6" fill="#000"/>
<circle cx="1724" cy="1303" r="5" fill="#000"/>
<circle cx="1643" cy="1362" r="6" fill="#000"/>
<circle cx="1650" cy="1398" r="6" fill="#000"/>
<polyline points="1721,1296 1825,1241 1870,1264" fill="none" stroke="#000" stroke-width="4" stroke-linejoin="round" stroke-linecap="round" />
<rect x="-42" y="-8" width="84" height="16" rx="8" transform="translate(1915,1290) rotate(29)" fill="#fff" stroke="#000" stroke-width="5"/>
<path d="M1868,1258 L1882,1262 L1880,1276 L1870,1272 Z" fill="#000" stroke="#000" stroke-width="5"/>
<polyline points="1950,1310 1972,1322" fill="none" stroke="#000" stroke-width="6" stroke-linejoin="round" stroke-linecap="round" />
<circle cx="1980" cy="1327" r="12" fill="#000"/>
<ellipse cx="1983" cy="1329" rx="5" ry="5" transform="rotate(0 1983 1329)" fill="#fff" stroke="#000" stroke-width="0"/>
<polyline points="1990,1332 2000,1337" fill="none" stroke="#000" stroke-width="4" stroke-linejoin="round" stroke-linecap="round" />
<path d="M1716,1412 C1715.5,1408.5 1715.8,1404 1719,1401 C1722.2,1398 1731,1399.3 1735,1394 C1739,1388.7 1738.7,1374.7 1743,1369 C1747.3,1363.3 1756.7,1360 1761,1360 C1765.3,1360 1767.8,1363.8 1769,1369 C1770.2,1374.2 1768.8,1385.7 1768,1391 C1767.2,1396.3 1763.8,1397 1764,1401 C1764.2,1405 1769.3,1410.2 1769,1415 C1768.7,1419.8 1766.3,1426.8 1762,1430 C1757.7,1433.2 1746.8,1434.3 1743,1434 C1739.2,1433.7 1742.5,1430 1739,1428 C1735.5,1426 1725.8,1424.7 1722,1422 C1718.2,1419.3 1716.5,1415.5 1716,1412Z" fill="none" stroke="#000" stroke-width="6" stroke-linejoin="round" stroke-linecap="round" />
<path d="M1830,1393 C1832.5,1391.2 1836.5,1385 1845,1382 C1853.5,1379 1861.8,1373.3 1881,1375 C1900.2,1376.7 1931.8,1382.5 1960,1392 C1988.2,1401.5 2022.5,1418.7 2050,1432 C2077.5,1445.3 2100,1461.2 2125,1472 C2150,1482.8 2170.8,1487.8 2200,1497 C2229.2,1506.2 2266.7,1517 2300,1527 C2333.3,1537 2366.7,1543.7 2400,1557 C2433.3,1570.3 2466.7,1588.7 2500,1607 C2533.3,1625.3 2566.7,1642.8 2600,1667 C2633.3,1691.2 2670.8,1725.3 2700,1752 C2729.2,1778.7 2754.2,1797.8 2775,1827 C2795.8,1856.2 2815,1897.8 2825,1927 C2835,1956.2 2836.7,1977 2835,2002 C2833.3,2027 2829.2,2057.8 2815,2077 C2800.8,2096.2 2773.3,2110.3 2750,2117 C2726.7,2123.7 2700,2123.7 2675,2117 C2650,2110.3 2629.2,2096.2 2600,2077 C2570.8,2057.8 2533.3,2029.5 2500,2002 C2466.7,1974.5 2433.3,1941.2 2400,1912 C2366.7,1882.8 2333.3,1853.7 2300,1827 C2266.7,1800.3 2229.2,1770.3 2200,1752 C2170.8,1733.7 2154.2,1725.3 2125,1717 C2095.8,1708.7 2054.2,1702.5 2025,1702 C1995.8,1701.5 1970.8,1712.3 1950,1714 C1929.2,1715.7 1916.7,1718.2 1900,1712 C1883.3,1705.8 1864.2,1691.2 1850,1677 C1835.8,1662.8 1824.7,1647.8 1815,1627 C1805.3,1606.2 1796.3,1574.8 1792,1552 C1787.7,1529.2 1788.5,1508.5 1789,1490 C1789.5,1471.5 1790.5,1454.7 1795,1441 C1799.5,1427.3 1810.2,1416 1816,1408 C1821.8,1400 1827.7,1395.5 1830,1393" fill="none" stroke="#000" stroke-width="5" stroke-linejoin="round" stroke-linecap="round" stroke-dasharray="28 11" stroke-linecap="butt"/>
<polyline points="1790,1386 1833,1411" fill="none" stroke="#000" stroke-width="4" stroke-linejoin="round" stroke-linecap="round" />
<path d="M1822,1423 L1872,1397 L1920,1409 L1914,1447 L1920,1458 L1911,1473 L1911,1496 L1897,1500 L1885,1497 L1853,1513 L1846,1519 L1829,1517 L1822,1510 L1817,1462 Z" fill="#000" stroke="#000" stroke-width="5" stroke-linejoin="round"/>
<ellipse cx="1885" cy="1409" rx="13" ry="5" transform="rotate(-10 1885 1409)" fill="#fff" stroke="#000" stroke-width="0"/>
<ellipse cx="1903" cy="1423" rx="10" ry="11" transform="rotate(40 1903 1423)" fill="#fff" stroke="#000" stroke-width="0"/>
<ellipse cx="1866" cy="1435.5" rx="14" ry="11.5" transform="rotate(-30 1866 1435.5)" fill="#fff" stroke="#000" stroke-width="0"/>
<ellipse cx="1874" cy="1452.5" rx="26" ry="9.5" transform="rotate(-25 1874 1452.5)" fill="#fff" stroke="#000" stroke-width="0"/>
<ellipse cx="1832" cy="1447.5" rx="6" ry="7.5" transform="rotate(0 1832 1447.5)" fill="#fff" stroke="#000" stroke-width="0"/>
<ellipse cx="1830" cy="1477" rx="6" ry="17" transform="rotate(0 1830 1477)" fill="#fff" stroke="#000" stroke-width="0"/>
<ellipse cx="1849.5" cy="1478" rx="8.5" ry="12" transform="rotate(0 1849.5 1478)" fill="#fff" stroke="#000" stroke-width="0"/>
<ellipse cx="1865" cy="1476.5" rx="5" ry="7.5" transform="rotate(10 1865 1476.5)" fill="#fff" stroke="#000" stroke-width="0"/>
<ellipse cx="1879.5" cy="1475.5" rx="4.5" ry="5.5" transform="rotate(30 1879.5 1475.5)" fill="#fff" stroke="#000" stroke-width="0"/>
<ellipse cx="1902" cy="1462.5" rx="10" ry="7.5" transform="rotate(0 1902 1462.5)" fill="#fff" stroke="#000" stroke-width="0"/>
<ellipse cx="1891" cy="1482" rx="6" ry="4" transform="rotate(-20 1891 1482)" fill="#fff" stroke="#000" stroke-width="0"/>
<ellipse cx="1902.5" cy="1489" rx="3.5" ry="5" transform="rotate(0 1902.5 1489)" fill="#fff" stroke="#000" stroke-width="0"/>
<ellipse cx="1872" cy="1490.5" rx="4" ry="3.5" transform="rotate(0 1872 1490.5)" fill="#fff" stroke="#000" stroke-width="0"/>
<ellipse cx="1862" cy="1500" rx="6" ry="3" transform="rotate(-10 1862 1500)" fill="#fff" stroke="#000" stroke-width="0"/>
<ellipse cx="1840.5" cy="1497" rx="4.5" ry="3" transform="rotate(0 1840.5 1497)" fill="#fff" stroke="#000" stroke-width="0"/>
<ellipse cx="1832" cy="1510.5" rx="3" ry="3.5" transform="rotate(0 1832 1510.5)" fill="#fff" stroke="#000" stroke-width="0"/>
<ellipse cx="1847" cy="1509.5" rx="4" ry="3.5" transform="rotate(0 1847 1509.5)" fill="#fff" stroke="#000" stroke-width="0"/>
<polyline points="1920,1458 1937,1470 1976,1449 2030,1477" fill="none" stroke="#000" stroke-width="5" stroke-linejoin="round" stroke-linecap="round" />
<path d="M2028,1468 C2032,1462 2045,1462 2049,1470 L2049,1490 C2044,1496 2034,1496 2030,1490 Z" fill="#000"/>
<rect x="-24" y="-7" width="48" height="14" rx="7" transform="translate(2070,1494) rotate(30)" fill="#000"/>
<ellipse cx="2083" cy="1502" rx="6" ry="3" transform="rotate(30 2083 1502)" fill="#fff" stroke="#000" stroke-width="0"/>
<circle cx="2103" cy="1518" r="13" fill="#000"/>
<ellipse cx="2104" cy="1518" rx="3" ry="6" transform="rotate(30 2104 1518)" fill="#fff" stroke="#000" stroke-width="0"/>
<polyline points="1911,1496 1981,1532" fill="none" stroke="#000" stroke-width="5" stroke-linejoin="round" stroke-linecap="round" />
<path d="M1981,1532 L2021,1515 L2027,1529 L2041,1533 L2040,1567 L2027,1575 L2013,1585 L1986,1568 L1979,1554 Z" fill="#000" stroke="#000" stroke-width="4" stroke-linejoin="round"/>
<ellipse cx="2011" cy="1527.5" rx="12" ry="7.5" transform="rotate(-20 2011 1527.5)" fill="#fff" stroke="#000" stroke-width="0"/>
<ellipse cx="1998" cy="1551.5" rx="8" ry="8.5" transform="rotate(30 1998 1551.5)" fill="#fff" stroke="#000" stroke-width="0"/>
<ellipse cx="2024.5" cy="1545.5" rx="13.5" ry="5.5" transform="rotate(10 2024.5 1545.5)" fill="#fff" stroke="#000" stroke-width="0"/>
<ellipse cx="2029.5" cy="1556" rx="5.5" ry="5" transform="rotate(0 2029.5 1556)" fill="#fff" stroke="#000" stroke-width="0"/>
<ellipse cx="2021" cy="1568" rx="9" ry="6" transform="rotate(10 2021 1568)" fill="#fff" stroke="#000" stroke-width="0"/>
<ellipse cx="2009" cy="1576" rx="5" ry="4" transform="rotate(0 2009 1576)" fill="#fff" stroke="#000" stroke-width="0"/>
<ellipse cx="1990.5" cy="1560" rx="5.5" ry="4" transform="rotate(20 1990.5 1560)" fill="#fff" stroke="#000" stroke-width="0"/>
<ellipse cx="2008" cy="1557" rx="4" ry="4" transform="rotate(0 2008 1557)" fill="#fff" stroke="#000" stroke-width="0"/>
<polyline points="2037,1568 2083,1594" fill="none" stroke="#000" stroke-width="5" stroke-linejoin="round" stroke-linecap="round" />
<polyline points="1853,1517 1858,1528 1858,1568 1904,1598" fill="none" stroke="#000" stroke-width="5" stroke-linejoin="round" stroke-linecap="round" />
<path d="M1902,1598 C1905,1590 1925,1590 1935,1600 C1942,1610 1938,1622 1930,1622 L1915,1612 Z" fill="#000"/>
<path d="M2100,1584 C2097.7,1585.3 2088.8,1587.7 2086,1592 C2083.2,1596.3 2082.3,1605.3 2083,1610 C2083.7,1614.7 2088.8,1618.3 2090,1620" fill="none" stroke="#000" stroke-width="5" stroke-linejoin="round" stroke-linecap="round" />
<polyline points="2100,1584 2615,1884" fill="none" stroke="#000" stroke-width="5" stroke-linejoin="round" stroke-linecap="round" />
<polyline points="2090,1620 2590,1924" fill="none" stroke="#000" stroke-width="5" stroke-linejoin="round" stroke-linecap="round" />
<path d="M2615,1886 C2622.2,1881.5 2646.3,1863.2 2658,1859 C2669.7,1854.8 2677.8,1857 2685,1861 C2692.2,1865 2698.3,1877 2701,1883 C2703.7,1889 2701,1894.7 2701,1897" fill="none" stroke="#000" stroke-width="6" stroke-linejoin="round" stroke-linecap="round" />
<path d="M2615,1886 C2611.5,1892.7 2599,1914 2594,1926 C2589,1938 2585.8,1947.7 2585,1958 C2584.2,1968.3 2585.8,1979.8 2589,1988 C2592.2,1996.2 2597.8,2003.3 2604,2007 C2610.2,2010.7 2619.7,2011 2626,2010 C2632.3,2009 2639.3,2002.5 2642,2001" fill="none" stroke="#000" stroke-width="6" stroke-linejoin="round" stroke-linecap="round" />
<path d="M2667,1882 C2675.2,1883.7 2686.8,1892.8 2696,1898 C2705.2,1903.2 2716,1906.5 2722,1913 C2728,1919.5 2731.2,1927.7 2732,1937 C2732.8,1946.3 2730.3,1959.2 2727,1969 C2723.7,1978.8 2718.2,1988.8 2712,1996 C2705.8,2003.2 2696.3,2009 2690,2012 C2683.7,2015 2681.2,2015.7 2674,2014 C2666.8,2012.3 2656.8,2007.3 2647,2002 C2637.2,1996.7 2621.7,1989.3 2615,1982 C2608.3,1974.7 2607.8,1966.5 2607,1958 C2606.2,1949.5 2606.8,1940 2610,1931 C2613.2,1922 2619.8,1911.2 2626,1904 C2632.2,1896.8 2640.2,1891.7 2647,1888 C2653.8,1884.3 2658.8,1880.3 2667,1882Z" fill="#000" stroke="#000" stroke-width="4"/>
<ellipse cx="2621.0" cy="1943.2" rx="5.5" ry="3" fill="#fff"/>
<ellipse cx="2621.9" cy="1956.6" rx="3.9" ry="3" fill="#fff"/>
<ellipse cx="2622.6" cy="1964.9" rx="4.4" ry="3" fill="#fff"/>
<ellipse cx="2632.1" cy="1914.6" rx="3.9" ry="3" fill="#fff"/>
<ellipse cx="2634.9" cy="1925.6" rx="4.6" ry="3" fill="#fff"/>
<ellipse cx="2635.7" cy="1934.7" rx="4.9" ry="3" fill="#fff"/>
<ellipse cx="2633.8" cy="1947.8" rx="5.1" ry="3" fill="#fff"/>
<ellipse cx="2632.4" cy="1955.6" rx="3.2" ry="3" fill="#fff"/>
<ellipse cx="2635.9" cy="1967.8" rx="4.4" ry="3" fill="#fff"/>
<ellipse cx="2633.2" cy="1979.1" rx="3.7" ry="3" fill="#fff"/>
<ellipse cx="2646.7" cy="1905.6" rx="5.1" ry="3" fill="#fff"/>
<ellipse cx="2648.0" cy="1915.6" rx="3.0" ry="3" fill="#fff"/>
<ellipse cx="2647.4" cy="1927.8" rx="5.2" ry="3" fill="#fff"/>
<ellipse cx="2646.3" cy="1937.8" rx="3.1" ry="3" fill="#fff"/>
<ellipse cx="2647.3" cy="1948.2" rx="3.4" ry="3" fill="#fff"/>
<ellipse cx="2644.3" cy="1960.3" rx="5.5" ry="3" fill="#fff"/>
<ellipse cx="2644.4" cy="1971.1" rx="3.7" ry="3" fill="#fff"/>
<ellipse cx="2644.6" cy="1980.1" rx="4.8" ry="3" fill="#fff"/>
<ellipse cx="2647.5" cy="1990.1" rx="4.3" ry="3" fill="#fff"/>
<ellipse cx="2657.3" cy="1907.2" rx="5.4" ry="3" fill="#fff"/>
<ellipse cx="2658.0" cy="1918.7" rx="3.4" ry="3" fill="#fff"/>
<ellipse cx="2656.3" cy="1928.1" rx="2.6" ry="3" fill="#fff"/>
<ellipse cx="2656.8" cy="1938.3" rx="4.3" ry="3" fill="#fff"/>
<ellipse cx="2656.6" cy="1947.9" rx="5.1" ry="3" fill="#fff"/>
<ellipse cx="2657.3" cy="1962.5" rx="5.2" ry="3" fill="#fff"/>
<ellipse cx="2657.5" cy="1971.5" rx="4.1" ry="3" fill="#fff"/>
<ellipse cx="2658.6" cy="1983.1" rx="4.2" ry="3" fill="#fff"/>
<ellipse cx="2658.5" cy="1995.5" rx="4.0" ry="3" fill="#fff"/>
<ellipse cx="2672.0" cy="1907.2" rx="2.5" ry="3" fill="#fff"/>
<ellipse cx="2674.9" cy="1919.0" rx="2.5" ry="3" fill="#fff"/>
<ellipse cx="2673.2" cy="1928.0" rx="2.5" ry="3" fill="#fff"/>
<ellipse cx="2672.7" cy="1941.3" rx="2.5" ry="3" fill="#fff"/>
<ellipse cx="2671.1" cy="1952.4" rx="2.5" ry="3" fill="#fff"/>
<ellipse cx="2673.5" cy="1961.2" rx="2.5" ry="3" fill="#fff"/>
<ellipse cx="2673.5" cy="1973.8" rx="2.5" ry="3" fill="#fff"/>
<ellipse cx="2673.7" cy="1984.4" rx="2.5" ry="3" fill="#fff"/>
<ellipse cx="2673.8" cy="1996.9" rx="2.5" ry="3" fill="#fff"/>
<ellipse cx="2686.7" cy="1911.8" rx="2.5" ry="3" fill="#fff"/>
<ellipse cx="2685.0" cy="1920.7" rx="2.5" ry="3" fill="#fff"/>
<ellipse cx="2686.4" cy="1931.2" rx="2.5" ry="3" fill="#fff"/>
<ellipse cx="2685.5" cy="1942.2" rx="2.5" ry="3" fill="#fff"/>
<ellipse cx="2685.5" cy="1954.3" rx="2.5" ry="3" fill="#fff"/>
<ellipse cx="2685.2" cy="1964.4" rx="2.5" ry="3" fill="#fff"/>
<ellipse cx="2687.1" cy="1974.0" rx="2.5" ry="3" fill="#fff"/>
<ellipse cx="2686.3" cy="1987.8" rx="2.5" ry="3" fill="#fff"/>
<ellipse cx="2685.2" cy="1996.8" rx="2.5" ry="3" fill="#fff"/>
<ellipse cx="2698.7" cy="1911.7" rx="4.6" ry="3" fill="#fff"/>
<ellipse cx="2698.4" cy="1922.3" rx="3.5" ry="3" fill="#fff"/>
<ellipse cx="2701.3" cy="1933.8" rx="5.1" ry="3" fill="#fff"/>
<ellipse cx="2698.7" cy="1944.3" rx="4.5" ry="3" fill="#fff"/>
<ellipse cx="2701.5" cy="1955.8" rx="3.2" ry="3" fill="#fff"/>
<ellipse cx="2698.5" cy="1967.1" rx="3.1" ry="3" fill="#fff"/>
<ellipse cx="2701.2" cy="1979.4" rx="3.1" ry="3" fill="#fff"/>
<ellipse cx="2699.1" cy="1990.2" rx="4.4" ry="3" fill="#fff"/>
<ellipse cx="2714.4" cy="1924.9" rx="2.5" ry="3" fill="#fff"/>
<ellipse cx="2714.7" cy="1935.9" rx="2.5" ry="3" fill="#fff"/>
<ellipse cx="2716.7" cy="1945.9" rx="2.5" ry="3" fill="#fff"/>
<ellipse cx="2713.0" cy="1960.0" rx="2.5" ry="3" fill="#fff"/>
<polyline points="1945,1750 2505,2090" fill="none" stroke="#000" stroke-width="5" stroke-linejoin="round" stroke-linecap="round" />
<polyline points="1938,1762 2498,2103" fill="none" stroke="#000" stroke-width="5" stroke-linejoin="round" stroke-linecap="round" />
<path d="M1945,1750 C1943.5,1750.3 1937.2,1750 1936,1752 C1934.8,1754 1937.7,1760.3 1938,1762" fill="none" stroke="#000" stroke-width="5" stroke-linejoin="round" stroke-linecap="round" />
<ellipse cx="2501" cy="2097" rx="6" ry="8" transform="rotate(0 2501 2097)" fill="none" stroke="#000" stroke-width="4"/>
<circle cx="772" cy="176" r="38" fill="#fff" stroke="#000" stroke-width="6.3"/>
<text x="772" y="194" text-anchor="middle" font-family="Liberation Sans, sans-serif" font-weight="bold" font-size="50">1</text>
<circle cx="162" cy="165" r="38" fill="#fff" stroke="#000" stroke-width="6.3"/>
<text x="162" y="183" text-anchor="middle" font-family="Liberation Sans, sans-serif" font-weight="bold" font-size="50">2</text>
<circle cx="772" cy="440" r="38" fill="#fff" stroke="#000" stroke-width="6.3"/>
<text x="772" y="458" text-anchor="middle" font-family="Liberation Sans, sans-serif" font-weight="bold" font-size="50">3</text>
<circle cx="327" cy="1444" r="38" fill="#fff" stroke="#000" stroke-width="6.3"/>
<text x="327" y="1462" text-anchor="middle" font-family="Liberation Sans, sans-serif" font-weight="bold" font-size="50">4</text>
<circle cx="134" cy="903" r="38" fill="#fff" stroke="#000" stroke-width="6.3"/>
<text x="134" y="921" text-anchor="middle" font-family="Liberation Sans, sans-serif" font-weight="bold" font-size="50">5</text>
<circle cx="227" cy="960" r="38" fill="#fff" stroke="#000" stroke-width="6.3"/>
<text x="227" y="978" text-anchor="middle" font-family="Liberation Sans, sans-serif" font-weight="bold" font-size="50">6</text>
<circle cx="392" cy="1066" r="38" fill="#fff" stroke="#000" stroke-width="6.3"/>
<text x="392" y="1084" text-anchor="middle" font-family="Liberation Sans, sans-serif" font-weight="bold" font-size="50">7</text>
<circle cx="567" cy="1251" r="38" fill="#fff" stroke="#000" stroke-width="6.3"/>
<text x="567" y="1269" text-anchor="middle" font-family="Liberation Sans, sans-serif" font-weight="bold" font-size="50">8</text>
<circle cx="1361" cy="225" r="38" fill="#fff" stroke="#000" stroke-width="6.3"/>
<text x="1361" y="243" text-anchor="middle" font-family="Liberation Sans, sans-serif" font-weight="bold" font-size="50">9</text>
<circle cx="1452" cy="470" r="38" fill="#fff" stroke="#000" stroke-width="6.3"/>
<text x="1452" y="488" text-anchor="middle" font-family="Liberation Sans, sans-serif" font-weight="bold" font-size="50">10</text>
<circle cx="1570" cy="542" r="38" fill="#fff" stroke="#000" stroke-width="6.3"/>
<text x="1570" y="560" text-anchor="middle" font-family="Liberation Sans, sans-serif" font-weight="bold" font-size="50">11</text>
<circle cx="1690" cy="615" r="38" fill="#fff" stroke="#000" stroke-width="6.3"/>
<text x="1690" y="633" text-anchor="middle" font-family="Liberation Sans, sans-serif" font-weight="bold" font-size="50">12</text>
<circle cx="1797" cy="680" r="38" fill="#fff" stroke="#000" stroke-width="6.3"/>
<text x="1797" y="698" text-anchor="middle" font-family="Liberation Sans, sans-serif" font-weight="bold" font-size="50">13</text>
<circle cx="1110" cy="1467" r="38" fill="#fff" stroke="#000" stroke-width="6.3"/>
<text x="1110" y="1485" text-anchor="middle" font-family="Liberation Sans, sans-serif" font-weight="bold" font-size="50">14</text>
<circle cx="1755" cy="1194" r="38" fill="#fff" stroke="#000" stroke-width="6.3"/>
<text x="1755" y="1212" text-anchor="middle" font-family="Liberation Sans, sans-serif" font-weight="bold" font-size="50">15</text>
<circle cx="2112" cy="1374" r="38" fill="#fff" stroke="#000" stroke-width="6.3"/>
<text x="2112" y="1392" text-anchor="middle" font-family="Liberation Sans, sans-serif" font-weight="bold" font-size="50">16</text>
<circle cx="1770" cy="1759" r="38" fill="#fff" stroke="#000" stroke-width="6.3"/>
<text x="1770" y="1777" text-anchor="middle" font-family="Liberation Sans, sans-serif" font-weight="bold" font-size="50">17</text>
<circle cx="2465" cy="1699" r="38" fill="#fff" stroke="#000" stroke-width="6.3"/>
<text x="2465" y="1717" text-anchor="middle" font-family="Liberation Sans, sans-serif" font-weight="bold" font-size="50">18</text>
<circle cx="1452" cy="1657" r="38" fill="#fff" stroke="#000" stroke-width="6.3"/>
<text x="1452" y="1675" text-anchor="middle" font-family="Liberation Sans, sans-serif" font-weight="bold" font-size="50">19</text>
<circle cx="1925" cy="1957" r="38" fill="#fff" stroke="#000" stroke-width="6.3"/>
<text x="1925" y="1975" text-anchor="middle" font-family="Liberation Sans, sans-serif" font-weight="bold" font-size="50">20</text>
<circle cx="2082" cy="482" r="38" fill="#fff" stroke="#000" stroke-width="6.3"/>
<text x="2082" y="500" text-anchor="middle" font-family="Liberation Sans, sans-serif" font-weight="bold" font-size="50">21</text>
<circle cx="2427" cy="690" r="38" fill="#fff" stroke="#000" stroke-width="6.3"/>
<text x="2427" y="708" text-anchor="middle" font-family="Liberation Sans, sans-serif" font-weight="bold" font-size="50">22</text>
<circle cx="1615" cy="1136" r="38" fill="#fff" stroke="#000" stroke-width="6.3"/>
<text x="1615" y="1154" text-anchor="middle" font-family="Liberation Sans, sans-serif" font-weight="bold" font-size="50">23</text>
</svg></body></html>
